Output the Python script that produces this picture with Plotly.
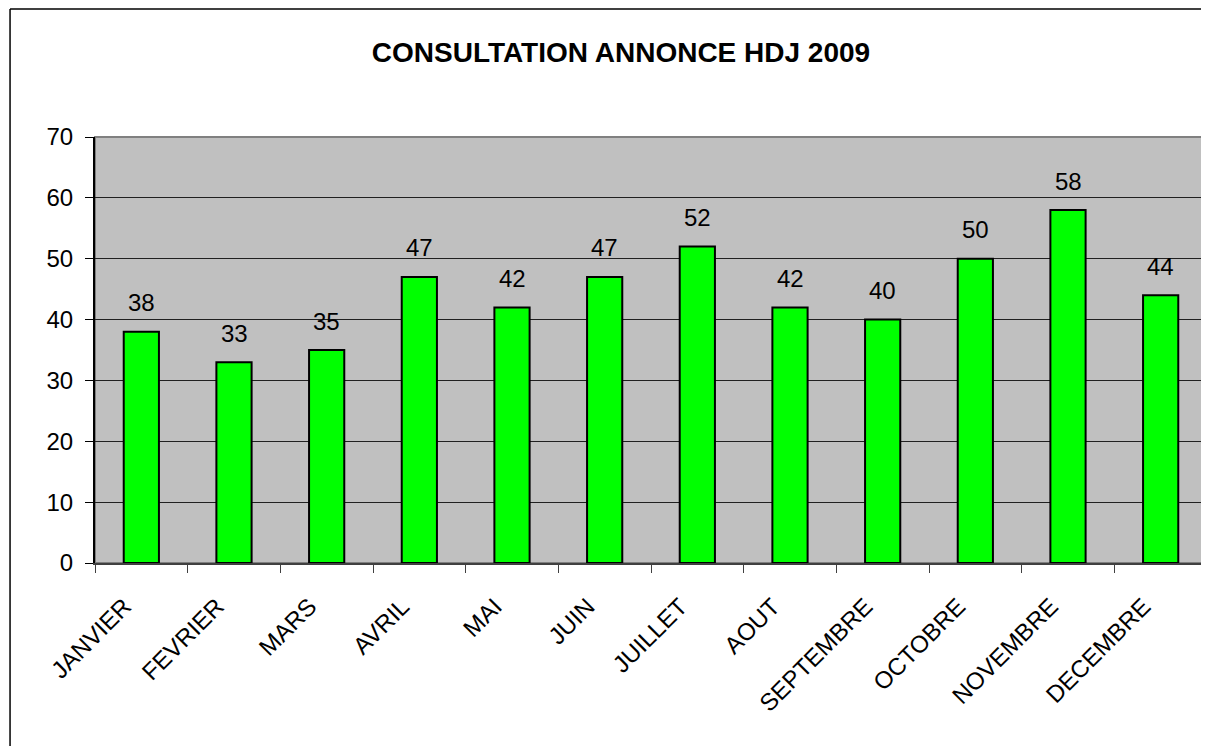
import plotly.graph_objects as go

mois = ["JANVIER", "FEVRIER", "MARS", "AVRIL", "MAI", "JUIN", "JUILLET",
        "AOUT", "SEPTEMBRE", "OCTOBRE", "NOVEMBRE", "DECEMBRE"]
consultations = [38, 33, 35, 47, 42, 47, 52, 42, 40, 50, 58, 44]
y_ticks = [0, 10, 20, 30, 40, 50, 60, 70]

FONT = "Liberation Sans, Arial, sans-serif"

fig = go.Figure(go.Bar(
    x=mois, y=consultations,
    marker=dict(color="#00FF00", line=dict(color="black", width=2)),
    width=0.38,
))

# value labels above each bar
for m, v in zip(mois, consultations):
    fig.add_annotation(x=m, y=v, text=str(v), showarrow=False, yshift=29,
                       font=dict(size=24, color="black", family=FONT))

# plot area border (gray) and outer chart frame
fig.add_shape(type="rect", xref="paper", yref="paper", x0=0, y0=0, x1=1, y1=1,
              line=dict(color="#808080", width=2), layer="below")
fig.add_shape(type="line", xref="paper", yref="paper", x0=-0.0764, y0=1.3005,
              x1=-0.0764, y1=-0.45, line=dict(color="black", width=1.5))
fig.add_shape(type="line", xref="paper", yref="paper", x0=-0.0764, y0=1.3005,
              x1=1.01, y1=1.3005, line=dict(color="black", width=1.5))

# page body has an 8px margin, so the figure is a bit smaller than the window
fig.update_layout(
    width=1201, height=738,
    margin=dict(l=87, r=2, t=129, b=183),
    paper_bgcolor="white", plot_bgcolor="#C0C0C0",
    showlegend=False,
    title=dict(text="<b>CONSULTATION ANNONCE HDJ 2009</b>", x=0.5104, xanchor="center",
               y=0.9404, yanchor="middle", font=dict(size=28, color="black", family=FONT)),
    font=dict(family=FONT, color="black"),
)
fig.update_xaxes(
    tickangle=-45, tickfont=dict(size=24), tickson="boundaries",
    ticks="outside", ticklen=8, tickcolor="#404040",
    ticklabelshift=-17, ticklabelstandoff=18,
    showline=True, linecolor="#404040", linewidth=2, showgrid=False,
)
fig.update_yaxes(
    range=[0, 70], tickvals=y_ticks, tickfont=dict(size=24),
    ticks="outside", ticklen=8, tickcolor="black", ticklabelstandoff=7,
    showline=True, linecolor="black", linewidth=2,
    showgrid=True, gridcolor="#202020", gridwidth=1, zeroline=False,
)

fig.write_html("out.html")
